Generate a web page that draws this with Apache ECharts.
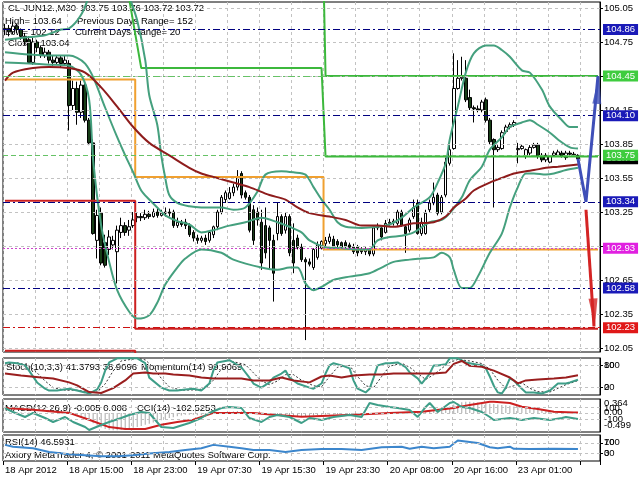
<!DOCTYPE html>
<html><head><meta charset="utf-8">
<style>html,body{margin:0;padding:0;background:#fff}#c{width:640px;height:480px}</style>
<script src="https://cdn.jsdelivr.net/npm/echarts/dist/echarts.min.js"></script>
</head><body><div id="c"></div>
<script>
const tickLabels = ['18 Apr 2012','18 Apr 15:00','18 Apr 23:00','19 Apr 07:30','19 Apr 15:30','19 Apr 23:30','20 Apr 08:00','20 Apr 16:00','23 Apr 01:00'];
const priceTicks = [102.05,102.35,102.65,102.95,103.25,103.55,103.85,104.15,104.45,104.75,105.05];

const opens = [
104.86,104.87,104.84,104.89,104.86,104.80,104.77,104.57,104.75,104.70,
104.63,104.66,104.59,104.57,104.61,104.56,104.56,104.19,104.34,104.13,
104.37,104.06,103.86,103.00,103.24,102.98,102.92,102.96,102.90,103.07,
103.13,103.09,103.13,103.20,103.21,103.20,103.23,103.21,103.25,103.22,
103.24,103.25,103.25,103.13,103.16,103.16,103.13,103.07,103.02,103.00,
103.02,103.00,103.05,103.12,103.25,103.36,103.37,103.42,103.47,103.59,
103.42,103.38,103.27,103.25,103.16,103.13,103.11,103.00,103.06,103.21,
103.09,103.21,103.00,103.02,102.94,102.83,102.81,102.76,102.85,102.93,
102.97,102.99,103.01,102.99,102.98,102.98,102.96,102.94,102.94,102.92,
102.90,102.92,102.88,103.11,103.11,103.07,103.15,103.16,103.15,103.25,
103.12,103.09,103.21,103.33,103.06,103.06,103.27,103.33,103.40,103.25,
103.40,103.68,103.81,104.34,104.43,104.43,104.26,104.17,104.16,104.15,
104.24,104.06,103.89,103.80,103.81,103.96,104.00,104.02,103.80,103.81,
103.74,103.77,103.82,103.84,103.75,103.71,103.69,103.75,103.75,103.77,
103.73,103.77,103.76,103.75];
const closes = [
104.87,104.84,104.89,104.86,104.80,104.75,104.57,104.75,104.70,104.63,
104.66,104.59,104.57,104.61,104.56,104.59,104.19,104.34,104.13,104.37,
104.06,103.86,103.06,103.22,102.80,102.78,103.03,103.00,103.09,103.13,
103.07,103.12,103.18,103.21,103.20,103.23,103.21,103.25,103.22,103.24,
103.25,103.24,103.13,103.16,103.14,103.13,103.05,103.02,103.00,103.02,
102.99,103.07,103.12,103.25,103.38,103.42,103.42,103.47,103.56,103.40,
103.38,103.09,103.00,103.18,102.80,102.89,103.00,102.71,103.21,103.06,
103.21,102.89,102.80,102.94,102.83,102.81,102.79,102.92,102.96,102.99,
103.00,103.03,102.95,102.96,102.94,102.95,102.94,102.90,102.89,102.90,
102.92,102.88,103.11,103.13,103.03,103.15,103.16,103.17,103.25,103.13,
103.06,103.18,103.29,103.06,103.16,103.24,103.33,103.38,103.24,103.38,
103.69,103.80,104.34,104.43,104.44,104.24,104.17,104.16,104.15,104.22,
104.06,103.87,103.80,103.82,103.95,104.00,104.02,104.04,103.81,103.83,
103.80,103.82,103.84,103.74,103.71,103.75,103.74,103.77,103.78,103.74,
103.77,103.76,103.75,103.72];
const highs = [
104.91,104.90,104.93,104.91,104.87,104.83,104.80,104.79,104.77,104.72,
104.70,104.68,104.63,104.63,104.63,104.63,104.59,104.41,104.40,104.41,
104.41,104.08,103.89,103.27,103.29,103.05,103.09,103.04,103.13,103.20,
103.16,103.18,103.25,103.25,103.24,103.27,103.26,103.28,103.29,103.27,
103.29,103.28,103.27,103.20,103.18,103.19,103.15,103.09,103.05,103.04,
103.05,103.09,103.13,103.27,103.40,103.44,103.47,103.50,103.62,103.61,
103.44,103.40,103.31,103.29,103.27,103.29,103.13,103.05,103.33,103.23,
103.25,103.23,103.15,103.05,102.97,102.85,102.84,102.93,102.99,103.00,
103.03,103.06,103.04,103.01,102.99,103.00,102.98,102.97,102.96,102.94,
102.94,102.93,103.13,103.15,103.13,103.18,103.19,103.19,103.27,103.27,
103.13,103.20,103.36,103.36,103.20,103.27,103.36,103.51,103.42,103.40,
103.73,103.89,104.65,104.59,104.62,104.59,104.33,104.19,104.19,104.24,
104.26,104.08,103.90,103.84,103.97,104.02,104.04,104.06,103.86,103.85,
103.81,103.84,103.86,103.86,103.77,103.77,103.75,103.79,103.80,103.79,
103.79,103.79,103.78,103.76];
const lows = [
104.81,104.80,104.82,104.83,104.77,104.72,104.56,104.55,104.66,104.61,
104.61,104.56,104.54,104.55,104.52,104.54,103.97,104.15,104.02,104.08,
104.04,103.84,103.05,102.84,102.78,102.76,102.87,102.92,102.62,103.02,
103.04,103.04,103.11,103.16,103.17,103.18,103.19,103.20,103.20,103.21,
103.21,103.21,103.11,103.11,103.12,103.10,103.03,102.99,102.97,102.98,
102.96,102.98,103.02,103.09,103.23,103.33,103.36,103.39,103.44,103.37,
103.36,103.07,102.96,103.13,102.74,102.84,102.74,102.46,103.00,103.04,
103.06,102.86,102.71,102.92,102.81,102.12,102.77,102.74,102.83,102.92,
102.95,102.97,102.93,102.94,102.92,102.93,102.92,102.88,102.86,102.88,
102.87,102.86,102.86,103.09,103.00,103.06,103.13,103.13,103.13,103.12,
102.89,103.07,103.19,103.05,103.04,103.05,103.25,103.31,103.22,103.23,
103.38,103.66,103.80,104.33,104.41,104.22,104.15,104.04,104.13,104.13,
104.04,103.85,103.29,103.78,103.80,103.94,103.98,104.00,103.68,103.80,
103.72,103.75,103.81,103.72,103.69,103.69,103.68,103.74,103.74,103.73,
103.71,103.75,103.74,103.72];

const bbUpper = [[0,104.77],[5,104.79],[10,104.81],[14,104.86],[16,104.87],[19,104.99],[21,105.16],[23,105.39],[26,105.56],[29,105.47],[31,105.16],[33,104.94],[35,104.59],[36,104.28],[38,104.02],[39,103.75],[40,103.55],[41,103.40],[43,103.33],[46,103.30],[49,103.29],[54,103.29],[57,103.27],[60,103.29],[63,103.43],[65,103.58],[69,103.61],[72,103.60],[75,103.58],[77,103.47],[79,103.36],[81,103.27],[83,103.16],[85,103.12],[89,103.11],[93,103.12],[96,103.14],[99,103.20],[102,103.29],[106,103.38],[108,103.51],[110,103.68],[111,103.89],[113,104.18],[115,104.48],[117,104.65],[120,104.72],[122,104.72],[124,104.68],[126,104.62],[129,104.50],[131,104.48],[134,104.33],[136,104.18],[139,104.06],[141,104.00],[143,104.00]];
const bbMiddle = [[0,104.66],[6,104.64],[11,104.63],[16,104.63],[18,104.61],[20,104.56],[22,104.44],[25,104.17],[28,103.91],[30,103.75],[32,103.60],[34,103.44],[36,103.36],[38,103.29],[40,103.22],[43,103.17],[46,103.14],[49,103.07],[52,103.09],[56,103.13],[60,103.16],[64,103.20],[68,103.16],[71,103.12],[74,103.07],[76,103.00],[80,102.94],[84,102.93],[88,102.92],[91,102.92],[93,103.00],[96,103.03],[99,103.04],[102,103.07],[106,103.16],[109,103.18],[111,103.24],[114,103.38],[116,103.53],[119,103.65],[121,103.80],[124,103.91],[126,104.00],[129,104.04],[131,104.06],[133,104.02],[136,103.95],[138,103.89],[141,103.82],[143,103.81]];
const bbLower = [[0,104.57],[6,104.56],[11,104.55],[16,104.54],[19,104.46],[21,104.24],[22,103.71],[24,103.13],[26,102.81],[28,102.56],[31,102.37],[33,102.31],[36,102.34],[38,102.45],[40,102.61],[43,102.76],[45,102.84],[49,102.92],[54,102.89],[57,102.83],[64,102.76],[68,102.74],[71,102.76],[73,102.76],[75,102.62],[77,102.56],[79,102.59],[82,102.65],[86,102.68],[91,102.71],[94,102.76],[97,102.81],[101,102.83],[104,102.84],[107,102.85],[109,102.89],[111,102.85],[112,102.74],[114,102.58],[116,102.58],[118,102.68],[121,102.89],[124,103.06],[126,103.29],[128,103.47],[130,103.59],[132,103.59],[135,103.58],[137,103.59],[140,103.62],[143,103.64]];
const maSlow = [[0,104.41],[2,104.48],[7,104.52],[11,104.53],[16,104.52],[20,104.48],[24,104.35],[28,104.18],[32,104.00],[36,103.86],[41,103.75],[46,103.64],[49,103.59],[52,103.56],[57,103.51],[61,103.47],[66,103.40],[70,103.36],[73,103.29],[76,103.24],[81,103.21],[85,103.18],[89,103.13],[93,103.13],[97,103.12],[102,103.15],[107,103.16],[110,103.21],[112,103.29],[115,103.37],[117,103.44],[121,103.51],[124,103.55],[127,103.59],[130,103.61],[132,103.62],[135,103.64],[138,103.65],[143,103.67]];

const pivotLine = [[0,104.42],[32,104.42],[33,103.56],[79,103.56],[80,102.92],[148,102.92]];
const r1Line = [[0,105.50],[30,105.33],[34,104.52],[79,104.52],[80,103.74],[148,103.74]];
const r2Line = [[0,106.20],[79,106.20],[80,104.45],[148,104.45]];
const s1Line = [[0,103.35],[32,103.35],[33,102.22],[148,102.22]];
const s2Line = [[0,102.025],[32,102.025],[33,101.50],[148,101.50]];
const pivotNames = [[82,104.45,'R 2'],[82,103.74,'R 1'],[82,102.92,'Pivot Point'],[82,102.22,'S 1']];

const levelValues = [104.86,104.45,104.10,103.72,103.75,103.34,102.93,102.58,102.23];
const blueArrow = [[143,103.72],[145,103.34],[148,104.45]];
const redArrow = [[145,103.27],[147,102.24]];

const stochMain = [[0,86],[1,88],[3,86],[5,80],[6,66],[8,34],[10,17],[11,12],[13,12],[16,17],[18,12],[20,7],[21,4],[23,15],[24,34],[25,66],[26,88],[28,99],[31,99],[33,99],[35,86],[36,47],[39,20],[41,12],[43,12],[45,15],[47,17],[49,12],[51,31],[52,66],[53,88],[56,94],[59,75],[61,47],[62,31],[64,20],[66,34],[67,47],[69,58],[70,66],[71,47],[73,31],[76,20],[77,17],[79,31],[80,58],[81,80],[82,86],[84,80],[86,72],[87,39],[88,17],[90,7],[91,17],[92,47],[93,80],[95,86],[96,86],[98,88],[100,75],[101,61],[103,45],[104,31],[106,58],[107,80],[108,80],[110,83],[111,99],[113,99],[115,88],[116,86],[119,80],[120,72],[121,50],[122,25],[123,7],[124,4],[125,20],[126,45],[127,39],[129,17],[130,7],[132,7],[134,4],[136,12],[138,31],[140,31],[141,34],[143,41.38]];
const stochSignal = [[0,84],[3,87],[6,80],[8,60],[10,38],[12,20],[15,13],[18,13],[21,8],[23,8],[25,30],[27,65],[29,92],[33,99],[35,95],[37,75],[39,45],[41,22],[44,13],[48,14],[50,18],[52,40],[54,70],[57,90],[60,82],[62,60],[64,38],[66,28],[68,38],[70,55],[72,55],[74,40],[77,25],[79,22],[81,50],[83,75],[86,80],[88,50],[90,25],[92,20],[94,50],[96,78],[99,86],[101,75],[103,58],[105,42],[107,55],[109,72],[111,88],[113,96],[116,92],[119,85],[121,70],[123,40],[125,18],[127,25],[129,33],[131,18],[133,9],[136,8],[138,18],[140,28],[143,38.91]];
const momentum = [[0,100.07],[4,99.89],[9,99.71],[12,99.62],[16,99.26],[18,98.99],[21,98.37],[24,98.28],[27,98.73],[30,99.44],[32,100.07],[35,100.16],[37,100.07],[40,100.07],[42,99.98],[46,99.89],[49,99.71],[52,99.62],[56,99.62],[59,99.62],[62,99.44],[66,99.44],[69,99.71],[72,99.44],[76,99.26],[79,99.80],[81,99.89],[84,99.71],[87,99.89],[91,99.98],[94,99.98],[97,100.07],[100,100.07],[104,100.07],[107,100.07],[110,100.16],[112,100.96],[114,101.23],[116,100.78],[119,100.69],[122,100.34],[126,99.71],[128,99.17],[130,99.44],[133,99.53],[137,99.62],[140,99.71],[143,99.91]];
const macdHist = [
0.02,0.02,0.02,0.02,0.02,0.01,0.01,0.01,0.01,0.00,0.00,0.00,0.00,0.00,0.00,0.00,
-0.02,-0.05,-0.08,-0.10,-0.13,-0.17,-0.27,
-0.33,-0.38,-0.42,-0.44,-0.45,-0.45,-0.44,-0.43,-0.41,-0.39,-0.37,-0.34,
-0.31,-0.28,-0.25,-0.22,-0.19,-0.16,-0.13,-0.11,-0.09,-0.07,-0.05,
-0.05,-0.05,-0.06,-0.06,-0.05,-0.04,-0.03,-0.01,0.01,0.02,0.03,0.04,0.05,0.04,0.03,
0.01,-0.01,-0.02,-0.04,-0.05,-0.06,-0.07,-0.06,-0.05,-0.06,-0.07,-0.08,-0.08,-0.09,-0.09,-0.08,-0.07,-0.06,-0.05,-0.04,
-0.04,-0.04,-0.04,-0.04,-0.05,-0.05,-0.05,-0.05,-0.05,-0.05,-0.03,-0.02,-0.01,0.00,0.01,0.02,0.02,0.02,0.02,0.02,0.03,0.03,0.03,0.04,0.04,0.05,0.06,0.07,
0.08,0.12,0.17,0.22,0.26,0.28,0.29,0.29,0.28,0.27,0.26,0.25,0.24,0.23,0.22,0.21,0.20,0.19,0.17,0.16,0.15,0.14,0.13,0.12,0.10,0.09,0.08,0.06,0.05,0.04,0.03,0.02,0.01,0.00,-0.005];
const macdSignal = [[0,0.13],[7,0.08],[16,0.0],[21,-0.18],[26,-0.37],[30,-0.42],[35,-0.42],[39,-0.31],[43,-0.24],[47,-0.18],[52,0.0],[57,0.0],[62,0.0],[67,-0.05],[74,-0.10],[79,-0.08],[87,-0.05],[96,0.0],[104,0.03],[112,0.13],[116,0.21],[121,0.29],[122,0.29],[126,0.26],[129,0.16],[133,0.10],[137,0.03],[142,0.008],[143,0.008]];
const cci = [[0,80],[2,13],[5,-70],[7,-3],[10,-87],[12,-153],[15,-70],[17,-153],[20,-237],[21,-287],[24,-203],[26,-153],[29,-87],[31,-37],[34,13],[36,-3],[39,-237],[42,-253],[46,-170],[49,-87],[51,-3],[54,80],[56,97],[59,80],[61,-87],[64,-153],[66,-70],[68,-37],[71,-70],[74,-170],[76,-87],[79,-120],[82,-70],[86,-37],[89,-70],[91,163],[93,130],[96,97],[98,80],[101,47],[103,-70],[105,97],[106,163],[108,13],[111,163],[112,180],[114,97],[116,80],[119,13],[121,-70],[122,-120],[126,-87],[129,-120],[132,-87],[136,-120],[139,-87],[140,-70],[143,-102.53]];
const rsi = [[0,62],[2,55],[7,49],[11,35],[16,26],[20,22],[24,18],[28,18],[32,22],[36,29],[41,35],[45,42],[49,49],[52,62],[56,55],[59,49],[62,42],[66,42],[70,35],[74,42],[79,46],[84,46],[89,42],[94,53],[99,55],[101,47],[104,55],[107,49],[111,55],[113,79],[115,75],[118,69],[121,53],[123,49],[126,55],[127,47],[131,46],[137,47],[143,46.59]];

const FONT = '"Liberation Sans", Arial, sans-serif';
const GRIDC = '#c2c2c2';
const N = 149;
const slots = Array.from({length: N}, (_, i) => String(i));
const candles = opens.map((o, i) => [o, closes[i], lows[i], highs[i]]);

const levelLineColors = ['#000080','#66c266','#000080','rgba(0,0,0,0)','#66c266','#000080','#cc44cc','#000080','#cc1111'];
const levelLineTypes = [[7,3,2,3],[7,3,2,3],[7,3,2,3],'solid',[5,3],[7,3,2,3],[2,2],[7,3,2,3],[7,3,2,3]];
const levelBoxColors = ['#1a1ab8','#3fcc3f','#1a1ab8','#000000','#3fcc3f','#1a1ab8','#e020e0','#1a1ab8','#e01818'];

function xAxisFor(gi, labels) {
  return {
    type: 'category', gridIndex: gi, data: slots, boundaryGap: true,
    axisLine: {show: false},
    axisTick: {show: labels, interval: 15, length: 4, lineStyle: {color: '#000'}},
    axisLabel: {show: labels, interval: 15, align: 'left', color: '#000', fontSize: 9.5, fontFamily: FONT, margin: 4,
      formatter: (v, idx) => (idx % 16 === 0 && tickLabels[idx / 16]) ? tickLabels[idx / 16] : ''},
    splitLine: {show: true, interval: 7, lineStyle: {color: GRIDC, type: [3, 3], width: 1}}
  };
}
function rightAxis(gi, min, max, labelVals) {
  return {
    type: 'value', gridIndex: gi, position: 'right', min, max,
    axisLine: {show: true, lineStyle: {color: '#000'}},
    axisTick: labelVals ? {show: true, customValues: labelVals, length: 3, lineStyle: {color: '#000'}} : {show: false},
    axisLabel: labelVals ? {customValues: labelVals, color: '#000', fontSize: 9.5, fontFamily: FONT, margin: 4,
      formatter: v => (max > 50 && max <= 100) ? String(v) : v.toFixed(2)} : {show: false},
    splitLine: {show: false}
  };
}
function hLines(vals, color, type) {
  return {silent: true, symbol: ['none', 'none'], label: {show: false}, animation: false,
    lineStyle: {color, type, width: 1}, data: vals.map(v => ({yAxis: v}))};
}
function lineS(name, xi, yi, data, color, width, z, extra) {
  return Object.assign({name, type: 'line', xAxisIndex: xi, yAxisIndex: yi, data, symbol: 'none',
    lineStyle: {color, width}, itemStyle: {color}, z, silent: true}, extra || {});
}
const T = (x, y, text, color, z) => ({type: 'text', x, y, z: z || 1,
  style: {text, fill: color || '#000', fontSize: 9.5, fontFamily: FONT}});

const option = {
  animation: false,
  backgroundColor: '#fff',
  textStyle: {fontFamily: FONT},
  grid: [
    {left: 3, top: 2, width: 597, height: 350, show: true, borderColor: '#000', borderWidth: 1},
    {left: 3, top: 358, width: 597, height: 37, show: true, borderColor: '#000', borderWidth: 1},
    {left: 3, top: 399, width: 597, height: 33, show: true, borderColor: '#000', borderWidth: 1},
    {left: 3, top: 435, width: 597, height: 26, show: true, borderColor: '#000', borderWidth: 1}
  ],
  xAxis: [xAxisFor(0, false), xAxisFor(1, false), xAxisFor(2, false), xAxisFor(3, true)],
  yAxis: [
    rightAxis(0, 102.015, 105.103, priceTicks),
    rightAxis(1, 0, 100, [20, 80]),
    {type: 'value', gridIndex: 1, min: 98.1, max: 101.5, show: false},
    rightAxis(2, -0.499, 0.364, null),
    {type: 'value', gridIndex: 2, min: -320, max: 230, show: false},
    rightAxis(3, 0, 100, [30, 70])
  ],
  series: [
    {name: 'hgrid', type: 'line', xAxisIndex: 0, yAxisIndex: 0, data: [], z: 1,
      markLine: hLines(priceTicks, GRIDC, [3, 3])},
    {name: 'price', type: 'candlestick', xAxisIndex: 0, yAxisIndex: 0, data: candles, barWidth: 3, z: 2,
      itemStyle: {color: '#ffffff', color0: '#173d17', borderColor: '#000', borderColor0: '#000', borderWidth: 1}},
    lineS('levels', 0, 0, [], '#000', 1, 3, {markLine: {silent: true, symbol: ['none', 'none'], animation: false,
      data: levelValues.map((v, i) => ({yAxis: v,
        lineStyle: {color: levelLineColors[i], type: levelLineTypes[i], width: 1},
        label: {show: true, position: 'end', distance: 3, formatter: v.toFixed(2), color: '#fff',
          backgroundColor: levelBoxColors[i], padding: [1, 3, 0, 3], fontSize: 9.5, lineHeight: 10, fontFamily: FONT}}))}}),
    lineS('pivot', 0, 0, pivotLine, '#f0a030', 2, 3, {step: 'middle'}),
    lineS('r1', 0, 0, r1Line, '#3cb83c', 2, 3),
    lineS('r2', 0, 0, r2Line, '#3cb83c', 2, 3),
    lineS('s1', 0, 0, s1Line, '#cc2020', 2, 3, {step: 'middle'}),
    lineS('s2', 0, 0, s2Line, '#cc2020', 2, 3, {step: 'middle'}),
    lineS('bbUpper', 0, 0, bbUpper, '#45a07e', 2, 4, {smooth: 0.3}),
    lineS('bbMiddle', 0, 0, bbMiddle, '#45a07e', 2, 4, {smooth: 0.3}),
    lineS('bbLower', 0, 0, bbLower, '#45a07e', 2, 4, {smooth: 0.3}),
    lineS('ma', 0, 0, maSlow, '#8e1c1c', 2, 4, {smooth: 0.3}),
    {name: 'pivotNames', type: 'scatter', xAxisIndex: 0, yAxisIndex: 0, data: pivotNames, symbolSize: 1,
      itemStyle: {opacity: 0}, z: 5, silent: true,
      label: {show: true, position: [0, 3], formatter: p => p.data[2], color: '#e2a444', fontSize: 9.5, fontFamily: FONT}},
    lineS('blueArrow', 0, 0, blueArrow, '#3f4fb8', 3, 6),
    lineS('redArrow', 0, 0, redArrow, '#d42424', 3, 6),
    {name: 'blueHead', type: 'scatter', xAxisIndex: 0, yAxisIndex: 0, data: [blueArrow[blueArrow.length - 1]], z: 7, silent: true,
      symbol: 'path://M5,0 L10,30 L0,30 Z', symbolSize: [9, 28], symbolRotate: -5, symbolOffset: [0, '50%'],
      itemStyle: {color: '#3f4fb8'}},
    {name: 'redHead', type: 'scatter', xAxisIndex: 0, yAxisIndex: 0, data: [redArrow[redArrow.length - 1]], z: 7, silent: true,
      symbol: 'path://M5,0 L10,30 L0,30 Z', symbolSize: [9, 28], symbolRotate: 184, symbolOffset: [0, '-50%'],
      itemStyle: {color: '#d42424'}},

    lineS('stochSignal', 1, 1, stochSignal, '#333', 1, 3, {lineStyle: {color: '#333', width: 1, type: [2, 2]},
      markLine: hLines([20, 80], GRIDC, [3, 3])}),
    lineS('stoch', 1, 1, stochMain, '#3e9e88', 2, 4),
    lineS('momentum', 1, 2, momentum, '#9a1e1e', 2, 4),

    {name: 'macd', type: 'bar', xAxisIndex: 2, yAxisIndex: 3, data: macdHist, barWidth: 1, z: 2, silent: true,
      itemStyle: {color: '#a8a8a8'}},
    lineS('macdSignal', 2, 3, macdSignal, '#cc2020', 2, 4),
    lineS('cci', 2, 4, cci, '#3e9e88', 2, 4, {markLine: hLines([100, 0, -100], GRIDC, [3, 3])}),

    lineS('rsi', 3, 5, rsi, '#3c86cc', 2, 4, {markLine: hLines([30, 70], GRIDC, [3, 3])})
  ],
  graphic: [
    T(8, 3, 'CL-JUN12.,M30'), T(80, 3, '103.75 103.76 103.72 103.72'),
    T(5, 16, 'High= 103.64'), T(77, 16, 'Previous Days Range= 152'),
    T(5, 27, 'Low= 102.12'), T(75, 27, 'Current Days Range= 20'),
    T(8, 38, 'Close= 103.04'),
    T(6, 362, 'Stoch(10,3,3) 41.3793 38.9096'), T(141, 362, 'Momentum(14) 99.9069'),
    T(5, 403, 'MACD(12,26,9) -0.005 0.008'), T(137, 403, 'CCI(14) -102.5253'),
    T(5, 437, 'RSI(14) 46.5931'),
    T(5, 450, 'Axiory MetaTrader 4, \u00a9 2001-2011 MetaQuotes Software Corp.'),
    T(604, 360, '100', '#000', 10), T(604, 382, '0', '#000', 10),
    T(604, 398, '0.364', '#000', 10), T(604, 403, '100', '#000', 10), T(604, 407, '0.00', '#000', 10),
    T(604, 414, '-100', '#000', 10), T(604, 420, '-0.499', '#000', 10),
    T(604, 437, '100', '#000', 10), T(604, 448, '0', '#000', 10)
  ]
};
const chart = echarts.init(document.getElementById('c'), null, {renderer: 'canvas'});
chart.setOption(option);
</script>
</body></html>
